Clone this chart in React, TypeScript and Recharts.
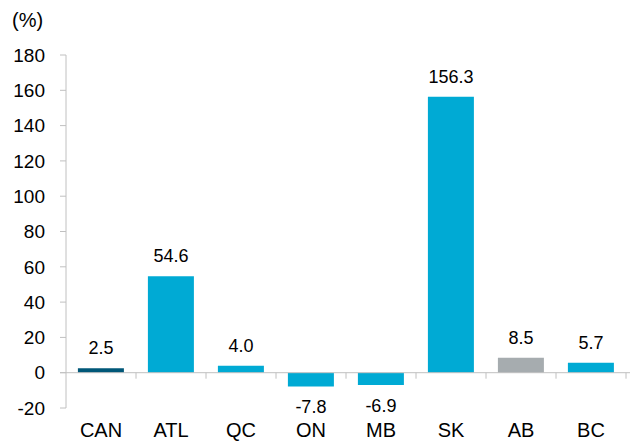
import { BarChart, Bar, XAxis, YAxis, Cell, LabelList, ReferenceLine } from "recharts";

const regions = ["CAN", "ATL", "QC", "ON", "MB", "SK", "AB", "BC"];
const changes = [2.5, 54.6, 4.0, -7.8, -6.9, 156.3, 8.5, 5.7];
const yTicks = [-20, 0, 20, 40, 60, 80, 100, 120, 140, 160, 180];

const DARK = "#005778";
const CYAN = "#00aad4";
const GREY = "#a6acaf";
const AXIS = "#c0c0c0";
const FONT = "'Liberation Sans', Arial, sans-serif";

function barColor(region: string) {
  if (region === "CAN") return DARK;
  if (region === "AB") return GREY;
  return CYAN;
}

const data = regions.map((region, i) => ({ region, value: changes[i] }));

function ValueLabel(props: any) {
  const { x, y, width, height, value } = props;
  const top = Math.min(y, y + height);
  const bottom = Math.max(y, y + height);
  const cx = x + width / 2;
  const ty = value >= 0 ? top - 14 : bottom + 27;
  return (
    <text x={cx} y={ty} textAnchor="middle" fontSize={18} fill="#000" fontFamily={FONT}>
      {value.toFixed(1)}
    </text>
  );
}

// zero line with tick marks on the category boundaries
function ZeroAxis(props: any) {
  const { x1, x2, y1 } = props;
  const step = (x2 - x1) / regions.length;
  return (
    <g>
      <line x1={x1 - 6} x2={x2 + 4} y1={y1} y2={y1} stroke={AXIS} strokeWidth={1} />
      {regions.map((r, i) => (
        <line
          key={r}
          x1={x1 + step * (i + 1)}
          x2={x1 + step * (i + 1)}
          y1={y1}
          y2={y1 + 6}
          stroke={AXIS}
          strokeWidth={1}
        />
      ))}
    </g>
  );
}

export default function App() {
  return (
    <div style={{ position: "absolute", left: 0, top: 0, width: 631, height: 442, background: "#fff" }}>
      <div
        style={{
          position: "absolute",
          left: 12,
          top: 8,
          fontFamily: FONT,
          fontSize: 20,
          lineHeight: "24px",
          color: "#000",
        }}
      >
        (%)
      </div>
      <BarChart
        width={631}
        height={442}
        data={data}
        margin={{ top: 55, right: 5, left: 0, bottom: 0 }}
        barCategoryGap="17%"
      >
        <XAxis
          dataKey="region"
          axisLine={false}
          tickLine={false}
          tickSize={0}
          tickMargin={15}
          height={34}
          interval={0}
          tick={{ fontSize: 20, fill: "#000", fontFamily: FONT }}
        />
        <YAxis
          domain={[-20, 180]}
          ticks={yTicks}
          interval={0}
          width={66}
          axisLine={{ stroke: AXIS }}
          tickLine={{ stroke: AXIS }}
          tickSize={6}
          tickMargin={15}
          tick={{ fontSize: 19, fill: "#000", fontFamily: FONT }}
        />
        <ReferenceLine y={0} shape={ZeroAxis} />
        <Bar dataKey="value" isAnimationActive={false}>
          {data.map((d) => (
            <Cell key={d.region} fill={barColor(d.region)} />
          ))}
          <LabelList dataKey="value" content={ValueLabel} />
        </Bar>
      </BarChart>
    </div>
  );
}
